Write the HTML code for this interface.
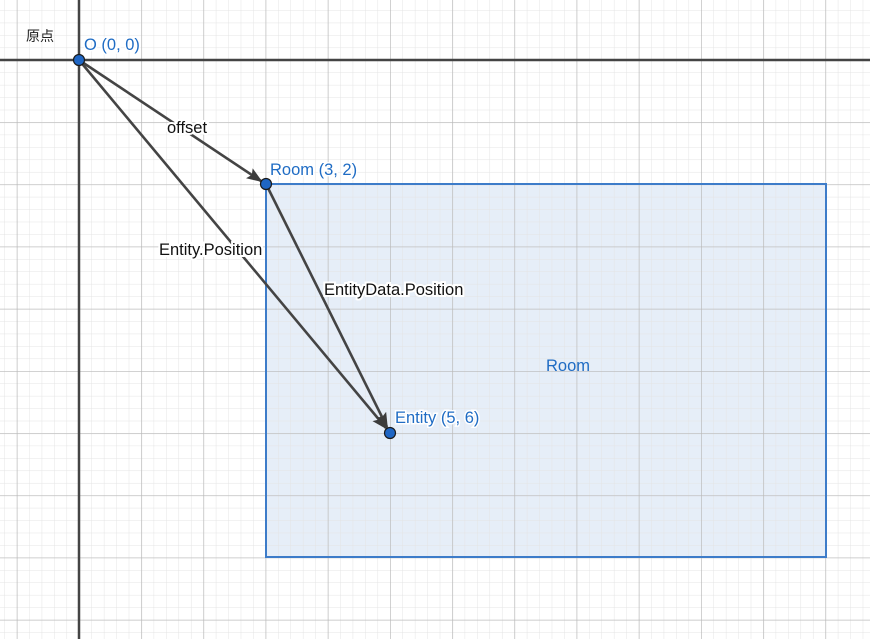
<!DOCTYPE html>
<html><head><meta charset="utf-8"><style>html,body{margin:0;padding:0;background:#fff}svg{display:block}</style></head>
<body>
<svg width="870" height="639" viewBox="0 0 870 639" xmlns="http://www.w3.org/2000/svg" font-family="Liberation Sans, Noto Sans CJK SC, sans-serif">
<defs>
<pattern id="mi" patternUnits="userSpaceOnUse" x="79" y="60" width="12.44" height="12.44">
<path d="M0 0H12.44M0 0V12.44" stroke="#e4e4e4" stroke-width="1" fill="none"/>
</pattern>
<pattern id="ma" patternUnits="userSpaceOnUse" x="79" y="60" width="62.2" height="62.2">
<path d="M0 0H62.2M0 0V62.2" stroke="#b8b8b8" stroke-width="1.3" fill="none"/>
</pattern>
<marker id="ar" markerWidth="16" markerHeight="12" refX="14" refY="6" orient="auto" markerUnits="userSpaceOnUse" viewBox="0 0 16 12">
<path d="M0 0L16 6L0 12L3 6Z" fill="#3c3c3c"/>
</marker>
</defs>
<rect width="870" height="639" fill="#fff"/>
<rect x="266" y="184" width="560" height="373" fill="#e6eef8"/>
<rect width="870" height="639" fill="url(#mi)"/>
<rect width="870" height="639" fill="url(#ma)"/>
<rect x="266" y="184" width="560" height="373" fill="none" stroke="#3d7cc9" stroke-width="2"/>
<line x1="0" y1="60" x2="870" y2="60" stroke="#444" stroke-width="2.5"/>
<line x1="79" y1="0" x2="79" y2="639" stroke="#444" stroke-width="2.5"/>
<g stroke="#444" stroke-width="2.6" fill="none">
<line x1="79" y1="60" x2="261" y2="181" marker-end="url(#ar)"/>
<line x1="79" y1="60" x2="386" y2="428" marker-end="url(#ar)"/>
<line x1="266" y1="184" x2="387" y2="427" marker-end="url(#ar)"/>
</g>
<g fill="#1f66c4" stroke="#1a1a1a" stroke-width="1.2">
<circle cx="79" cy="60" r="5.5"/>
<circle cx="266" cy="184" r="5.5"/>
<circle cx="390" cy="433" r="5.5"/>
</g>
<g font-size="16.5" fill="#1f6cc4" stroke="#fff" stroke-width="3" paint-order="stroke">
<text x="84" y="50">O (0, 0)</text>
<text x="270" y="175">Room (3, 2)</text>
<text x="395" y="423">Entity (5, 6)</text>
</g>
<text x="546" y="371" font-size="16.5" fill="#1f6cc4">Room</text>
<text x="26" y="41" font-size="14" fill="#222">原点</text>
<g font-size="16.5" fill="#111" stroke="#fff" stroke-width="4" paint-order="stroke">
<text x="167" y="133">offset</text>
<text x="159" y="255">Entity.Position</text>
<text x="324" y="295">EntityData.Position</text>
</g>
</svg>
</body></html>
